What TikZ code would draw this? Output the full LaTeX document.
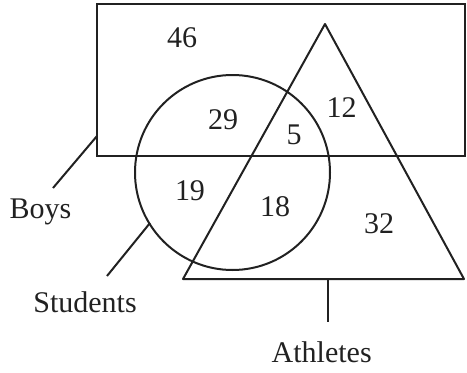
\documentclass[tikz,border=0pt]{standalone}
\usepackage{fontspec}
\setmainfont{Liberation Serif}
\definecolor{ink}{rgb}{0.13,0.13,0.13}
\begin{document}
\begin{tikzpicture}[x=1pt,y=-1pt,
  setline/.style={draw=ink,line width=2pt},
  leader/.style={draw=ink,line width=2pt},
  num/.style={text=ink,font=\fontsize{30}{36}\selectfont,inner sep=0pt},
  lbl/.style={text=ink,font=\fontsize{30}{36}\selectfont,inner sep=0pt}]
\useasboundingbox (0,0) rectangle (467,373);
% sets
\draw[setline] (97,4) rectangle (465,156);
\draw[setline,line join=round] (325,24) -- (464,279) -- (183,279) -- cycle;
\draw[setline] (232.5,172.5) circle (97.5);
% region numbers
\node[num] (n46) at (182,38) {46};
\node[num] (n29) at (223,120) {29};
\node[num] (n5) at (294,135) {5};
\node[num] (n12) at (341.5,107.5) {12};
\node[num] (n19) at (190,191) {19};
\node[num] (n18) at (275,207) {18};
\node[num] (n32) at (379,224) {32};
% labels
\node[lbl] (boys) at (40.5,212) {Boys};
\node[lbl] (students) at (85,302.5) {Students};
\node[lbl] (athletes) at (321.7,352.5) {Athletes};
% leader lines
\coordinate (boysA) at (97,136);
\coordinate (boysB) at (53,188);
\coordinate (stuA) at (150,223);
\coordinate (stuB) at (107,276);
\coordinate (athA) at (327.5,279);
\coordinate (athB) at (327.5,322);
\draw[leader] (boysA) -- (boysB);
\draw[leader] (stuA) -- (stuB);
\draw[leader] (athA) -- (athB);
\end{tikzpicture}
\end{document}
